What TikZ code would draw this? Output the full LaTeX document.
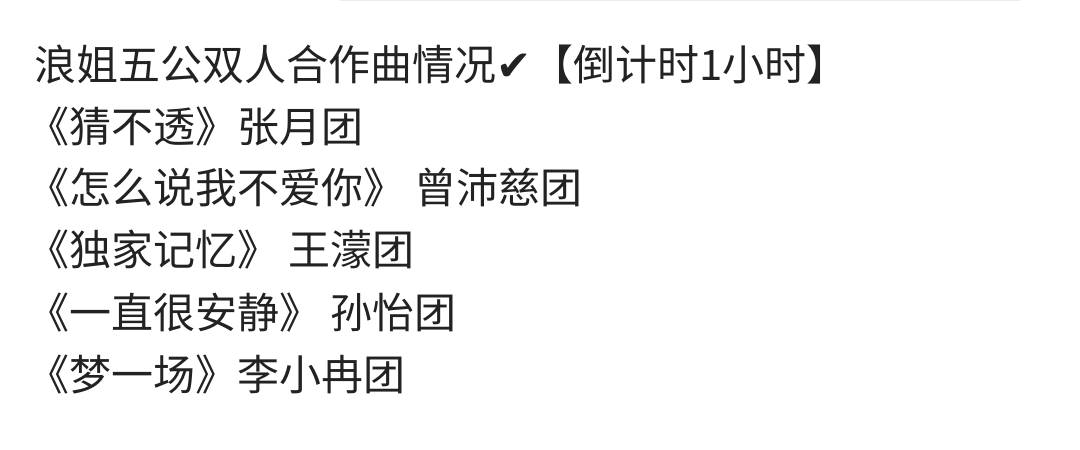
\documentclass[tikz,border=0pt]{standalone}
\usepackage{fontspec}
\newfontfamily\cjk{Noto Sans CJK SC}
\newfontfamily\dv{DejaVu Sans}
\definecolor{txt}{HTML}{222222}
\begin{document}
\begin{tikzpicture}[x=1pt,y=-1pt,
  line/.style={anchor=base west,inner sep=0pt,text=txt,font=\cjk\fontsize{42}{46}\selectfont}]
\useasboundingbox[fill=white] (0,0) rectangle (1080,450);
\draw[gray!15,line width=1pt] (340,0.5) -- (1020,0.5);
\node[line] (l1) at (34,80) {浪姐五公双人合作曲情况{\dv ✔}【倒计时1小时】};
\node[line] (l2) at (27,142) {《猜不透》张月团};
\node[line] (l3) at (27,203) {《怎么说我不爱你》 曾沛慈团};
\node[line] (l4) at (27,265) {《独家记忆》 王濛团};
\node[line] (l5) at (27,328) {《一直很安静》 孙怡团};
\node[line] (l6) at (27,390) {《梦一场》李小冉团};
\end{tikzpicture}
\end{document}
